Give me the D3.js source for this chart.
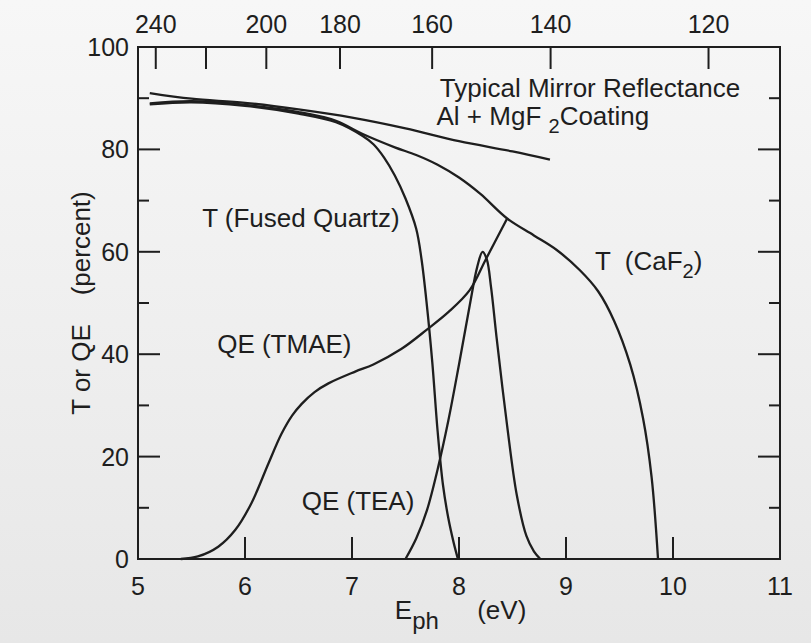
<!DOCTYPE html>
<html>
<head>
<meta charset="utf-8">
<script src="https://cdn.jsdelivr.net/npm/d3@7"></script>
<style>
  body { margin: 0; background: #efefef; }
  svg { display: block; font-family: "Liberation Sans", Arial, Helvetica, sans-serif; }
  .lbl { font-size: 26px; fill: #1e1e1e; white-space: pre; }
  .tlbl { font-size: 25px; fill: #1e1e1e; }
</style>
</head>
<body>
<svg id="chart" width="811" height="643"></svg>
<script>
// axis values
var energyTicks = [5, 6, 7, 8, 9, 10, 11];
var percentTicks = [0, 20, 40, 60, 80, 100];
var wavelengthTicks = [240, 220, 200, 180, 160, 140, 120];
var wavelengthLabels = [240, 200, 180, 160, 140, 120];

// curves: [photon energy eV, percent]
var mirror = [[5.11, 91.0], [5.5, 89.9], [6.0, 89.1], [6.5, 87.8], [7.0, 86.2], [7.5, 84.1], [8.0, 81.6], [8.5, 79.6], [8.85, 78.0]];
var caf2 = [[5.11, 89.0], [5.5, 89.4], [6.0, 88.7], [6.5, 87.3], [6.85, 85.6], [7.1, 83.0], [7.4, 80.4], [7.6, 78.9], [7.8, 77.0], [8.0, 74.5], [8.2, 71.3], [8.45, 66.5], [8.7, 63.2], [8.91, 60.4], [9.13, 56.4], [9.3, 52.3], [9.45, 46.5], [9.6, 38.0], [9.72, 27.5], [9.8, 16.0], [9.86, 0]];
var quartz = [[5.11, 88.8], [5.5, 89.2], [6.0, 88.5], [6.5, 87.0], [6.85, 85.3], [7.1, 82.6], [7.2, 81.0], [7.3, 78.4], [7.4, 74.9], [7.5, 70.4], [7.6, 64.5], [7.65, 58.5], [7.7, 49.5], [7.75, 38.5], [7.8, 25.0], [7.85, 14.5], [7.9, 8.0], [7.95, 3.2], [7.99, 0]];
var tmae = [[5.4, 0], [5.56, 0.5], [5.75, 2.4], [5.91, 5.7], [6.06, 10.9], [6.22, 18.7], [6.34, 24.4], [6.44, 28.0], [6.53, 30.3], [6.65, 32.6], [6.78, 34.3], [7.03, 36.6], [7.2, 38.0], [7.46, 41.0], [7.7, 44.8], [7.9, 48.2], [8.1, 52.5], [8.25, 58.5], [8.45, 66.5]];
var tea = [[7.5, 0], [7.6, 4.0], [7.7, 9.5], [7.8, 17.5], [7.9, 27.0], [8.0, 38.0], [8.1, 49.5], [8.17, 57.0], [8.22, 60.0], [8.26, 58.5], [8.3, 53.0], [8.35, 43.5], [8.45, 26.0], [8.54, 12.5], [8.63, 4.5], [8.7, 1.5], [8.76, 0]];

var hc = 1239.84; // eV*nm, for the wavelength axis on top

var svg = d3.select("#chart");
var x = d3.scaleLinear().domain([5, 11]).range([138, 780]);
var y = d3.scaleLinear().domain([0, 100]).range([559, 47]);

// scanned page background
var grad = svg.append("defs").append("linearGradient")
  .attr("id", "paper").attr("x1", 0).attr("y1", 0).attr("x2", 0).attr("y2", 1);
grad.append("stop").attr("offset", "0%").attr("stop-color", "#f7f7f7");
grad.append("stop").attr("offset", "100%").attr("stop-color", "#e7e7e7");
svg.append("rect").attr("width", 811).attr("height", 643).attr("fill", "url(#paper)");

var ink = "#1e1e1e";

// frame
svg.append("rect")
  .attr("x", x(5)).attr("y", y(100))
  .attr("width", x(11) - x(5)).attr("height", y(0) - y(100))
  .attr("fill", "none").attr("stroke", ink).attr("stroke-width", 2);

// inward ticks, long on the labelled ones
var yt = y.ticks(10).filter(function(d){ return d > 0 && d < 100; });
function tickLen(d) { return d % 20 == 0 ? 22 : 11; }
svg.selectAll("line.ytl").data(yt).enter().append("line")
  .attr("class", "ytl")
  .attr("x1", x(5)).attr("x2", function(d){ return x(5) + tickLen(d); })
  .attr("y1", function(d){ return y(d); }).attr("y2", function(d){ return y(d); })
  .attr("stroke", ink).attr("stroke-width", 2);
svg.selectAll("line.ytr").data(yt).enter().append("line")
  .attr("class", "ytr")
  .attr("x1", x(11)).attr("x2", function(d){ return x(11) - tickLen(d); })
  .attr("y1", function(d){ return y(d); }).attr("y2", function(d){ return y(d); })
  .attr("stroke", ink).attr("stroke-width", 2);
svg.selectAll("line.xt").data(energyTicks.slice(1, -1)).enter().append("line")
  .attr("class", "xt")
  .attr("x1", function(d){ return x(d); }).attr("x2", function(d){ return x(d); })
  .attr("y1", y(0)).attr("y2", y(0) - 22)
  .attr("stroke", ink).attr("stroke-width", 2);
svg.selectAll("line.wt").data(wavelengthTicks).enter().append("line")
  .attr("class", "wt")
  .attr("x1", function(d){ return x(hc / d); }).attr("x2", function(d){ return x(hc / d); })
  .attr("y1", y(100)).attr("y2", y(100) + 22)
  .attr("stroke", ink).attr("stroke-width", 2);

// tick labels
svg.selectAll("text.xl").data(energyTicks).enter().append("text")
  .attr("class", "tlbl xl")
  .attr("x", function(d){ return x(d); }).attr("y", y(0) + 36)
  .attr("text-anchor", "middle")
  .text(function(d){ return d; });
svg.selectAll("text.yl").data(percentTicks).enter().append("text")
  .attr("class", "tlbl yl")
  .attr("x", x(5) - 9).attr("y", function(d){ return y(d) + 9; })
  .attr("text-anchor", "end")
  .text(function(d){ return d; });
svg.selectAll("text.wl").data(wavelengthLabels).enter().append("text")
  .attr("class", "tlbl wl")
  .attr("x", function(d){ return x(hc / d); }).attr("y", y(100) - 14)
  .attr("text-anchor", "middle")
  .text(function(d){ return d; });

// axis titles
var xt = svg.append("text").attr("class", "lbl").attr("y", y(0) + 60);
xt.append("tspan").attr("x", x(7.4)).text("E");
xt.append("tspan").attr("dy", 10).attr("font-size", 24).text("ph");
xt.append("tspan").attr("x", x(8.17)).attr("dy", -10).text("(eV)");
svg.append("text").attr("class", "lbl")
  .attr("transform", "translate(" + (x(5) - 48) + "," + y(50) + ") rotate(-90)")
  .attr("text-anchor", "middle")
  .text("T or QE    (percent)");

// curves
var line = d3.line()
  .x(function(d){ return x(d[0]); })
  .y(function(d){ return y(d[1]); })
  .curve(d3.curveCatmullRom.alpha(0.5));
[mirror, caf2, quartz, tmae, tea].forEach(function(c){
  svg.append("path").datum(c)
    .attr("d", line)
    .attr("fill", "none").attr("stroke", ink).attr("stroke-width", 2.3)
    .attr("stroke-linejoin", "round");
});

// curve labels
svg.append("text").attr("class", "lbl").attr("x", x(7.82)).attr("y", y(90.2))
  .text("Typical Mirror Reflectance");
var al = svg.append("text").attr("class", "lbl").attr("x", x(7.79)).attr("y", y(84.8));
al.append("tspan").text("Al + MgF ");
al.append("tspan").attr("dy", 8).attr("font-size", 20).text("2");
al.append("tspan").attr("dy", -8).text("Coating");
svg.append("text").attr("class", "lbl").attr("x", x(5.6)).attr("y", y(64.8))
  .text("T (Fused Quartz)");
var cf = svg.append("text").attr("class", "lbl").attr("x", x(9.27)).attr("y", y(56.4));
cf.append("tspan").text("T  (CaF");
cf.append("tspan").attr("dy", 8).attr("font-size", 20).text("2");
cf.append("tspan").attr("dy", -8).text(")");
svg.append("text").attr("class", "lbl").attr("x", x(5.74)).attr("y", y(40.2))
  .text("QE (TMAE)");
svg.append("text").attr("class", "lbl").attr("x", x(6.53)).attr("y", y(9.6))
  .text("QE (TEA)");
</script>
</body>
</html>
